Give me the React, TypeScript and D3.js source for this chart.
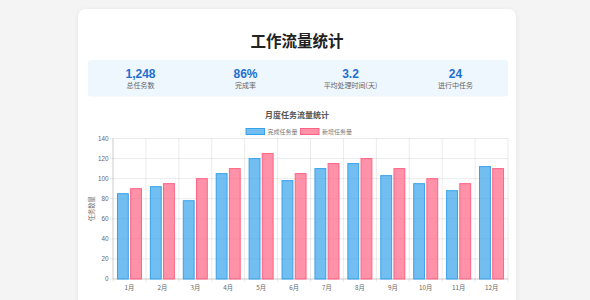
import React from "react"
import * as d3 from "d3"

// data
const months = ["1月", "2月", "3月", "4月", "5月", "6月", "7月", "8月", "9月", "10月", "11月", "12月"]
const doneTasks = [85, 92, 78, 105, 120, 98, 110, 115, 103, 95, 88, 112]
const newTasks = [90, 95, 100, 110, 125, 105, 115, 120, 110, 100, 95, 110]
const seriesNames = ["完成任务量", "新增任务量"]
const statValues = ["1,248", "86%", "3.2", "24"]
const statLabels = ["总任务数", "完成率", "平均处理时间(天)", "进行中任务"]
const yTicks = [0, 20, 40, 60, 80, 100, 120, 140]

const W = 590
const H = 300
const font = "'Liberation Sans', 'Noto Sans CJK SC', sans-serif"
const cjk = "'Noto Sans CJK SC', 'Liberation Sans', sans-serif"

const plot = { left: 113, right: 508, top: 138.5, bottom: 279 }
const fills = ["rgba(54,162,235,0.7)", "rgba(255,99,132,0.7)"]
const strokes = ["rgb(54,162,235)", "rgb(255,99,132)"]

export default function App() {
  const x = d3.scaleBand<string>().domain(months).range([plot.left, plot.right]).paddingInner(0).paddingOuter(0)
  const inner = d3
    .scaleBand<number>()
    .domain([0, 1])
    .range([x.bandwidth() * 0.1, x.bandwidth() * 0.9])
    .paddingInner(0.1)
    .paddingOuter(0.05)
  const y = d3.scaleLinear().domain([0, 140]).range([plot.bottom, plot.top])

  const series = [doneTasks, newTasks]
  const statX = d3.scaleBand<number>().domain(d3.range(4)).range([88, 508])

  return (
    <svg width={W} height={H} style={{ position: "absolute", left: 0, top: 0, background: "#f4f4f4" }}>
      <defs>
        <filter id="shadow" x="-5%" y="-5%" width="110%" height="110%">
          <feDropShadow dx="0" dy="1" stdDeviation="2" floodColor="#000" floodOpacity="0.08" />
        </filter>
      </defs>
      {/* card */}
      <rect x={78} y={9} width={438} height={310} rx={8} fill="#fff" filter="url(#shadow)" />

      <text x={297} y={47} textAnchor="middle" fontFamily={cjk} fontWeight="bold" fontSize={15.5} fill="#222">
        工作流量统计
      </text>

      {/* stats strip */}
      <rect x={88} y={60} width={420} height={36.5} rx={3} fill="#eef6fe" />
      {statValues.map((v, i) => (
        <g key={i}>
          <text x={statX(i)! + statX.bandwidth() / 2} y={77.5} textAnchor="middle" fontFamily={font} fontWeight="bold" fontSize={12} fill="#1f6fcf">
            {v}
          </text>
          <text x={statX(i)! + statX.bandwidth() / 2} y={88} textAnchor="middle" fontFamily={cjk} fontSize={7} fill="#666">
            {statLabels[i]}
          </text>
        </g>
      ))}

      <text x={297} y={118} textAnchor="middle" fontFamily={cjk} fontWeight="bold" fontSize={8} fill="#555">
        月度任务流量统计
      </text>

      {/* legend */}
      {seriesNames.map((name, i) => {
        const lx = i === 0 ? 246 : 300.5
        return (
          <g key={name}>
            <rect x={lx} y={128.5} width={18.5} height={6} fill={fills[i]} stroke={strokes[i]} strokeWidth={1} />
            <text x={lx + 21.5} y={134} fontFamily={cjk} fontSize={6} fill="#777">
              {name}
            </text>
          </g>
        )
      })}

      {/* grid */}
      {yTicks.map(t => (
        <g key={t}>
          <line x1={plot.left - 3} x2={plot.right} y1={y(t)} y2={y(t)} stroke="rgba(0,0,0,0.08)" strokeWidth={1} />
          <text x={108.5} y={y(t) + 2.2} textAnchor="end" fontFamily={font} fontSize={6.3} fill="#666">
            {t}
          </text>
        </g>
      ))}
      {months.map((m, i) => (
        <line key={m} x1={x(m)!} x2={x(m)!} y1={plot.top} y2={plot.bottom + 3} stroke="rgba(0,0,0,0.08)" strokeWidth={1} />
      ))}
      <line x1={plot.right} x2={plot.right} y1={plot.top} y2={plot.bottom + 3} stroke="rgba(0,0,0,0.08)" />
      <line x1={plot.left} x2={plot.left} y1={plot.top} y2={plot.bottom} stroke="rgba(0,0,0,0.12)" />
      <line x1={plot.left} x2={plot.right} y1={plot.bottom} y2={plot.bottom} stroke="rgba(0,0,0,0.12)" />

      {/* bars */}
      {series.map((vals, s) =>
        vals.map((v, i) => (
          <rect
            key={s + "-" + i}
            x={x(months[i])! + inner(s)! + 0.5}
            y={y(v)}
            width={inner.bandwidth() - 1}
            height={plot.bottom - y(v)}
            fill={fills[s]}
            stroke={strokes[s]}
            strokeWidth={1}
          />
        ))
      )}

      {/* x labels */}
      {months.map(m => (
        <text key={m} x={x(m)! + x.bandwidth() / 2} y={290} textAnchor="middle" fontFamily={cjk} fontSize={6.3} fill="#666">
          {m}
        </text>
      ))}

      <text transform={`translate(94,${(plot.top + plot.bottom) / 2}) rotate(-90)`} textAnchor="middle" fontFamily={cjk} fontSize={6.3} fill="#666">
        任务数量
      </text>
    </svg>
  )
}
